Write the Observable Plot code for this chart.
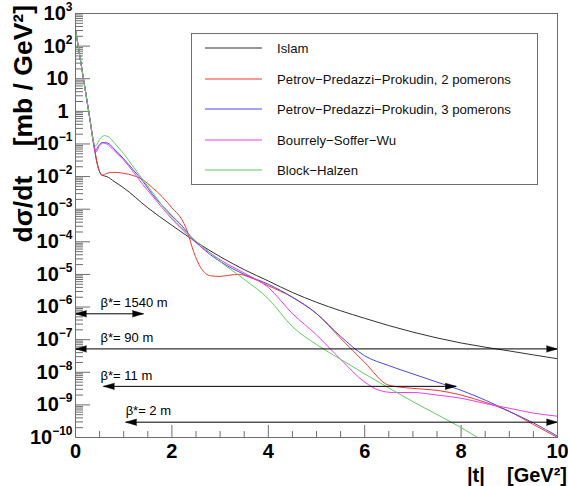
<!DOCTYPE html>
<html>
<head>
<meta charset="utf-8">
<script src="https://cdn.jsdelivr.net/npm/d3@7"></script>
<script src="https://cdn.jsdelivr.net/npm/@observablehq/plot@0.6"></script>
<style>
  html, body { margin: 0; padding: 0; background: #fff; }
  #chart svg { display: block; }
</style>
</head>
<body>
<div id="chart"></div>
<script>
// Elastic pp differential cross section dσ/dt [mb/GeV²] versus |t| [GeV²], model predictions

const modelNames = [
  "Islam",
  "Petrov\u2212Predazzi\u2212Prokudin, 2 pomerons",
  "Petrov\u2212Predazzi\u2212Prokudin, 3 pomerons",
  "Bourrely\u2212Soffer\u2212Wu",
  "Block\u2212Halzen"
];
const modelColors = ["#333333", "#f03a30", "#4a48f0", "#ee3cee", "#5fcc5f"];

// Islam
const islamT = [0, 0.1, 0.2, 0.3, 0.4, 0.45, 0.5, 0.55, 0.65, 0.8, 1.0, 1.5, 2.0, 2.5, 3.0, 3.5, 4.0, 4.5, 5.0, 6.0, 7.0, 8.0, 9.0, 10];
const islamSigma = [320, 40, 4.8, 0.56, 0.063, 0.025, 0.014, 0.011, 0.010, 7.1e-3, 4.5e-3, 1.1e-3, 3.2e-4, 1.0e-4, 3.5e-5, 1.4e-5, 6.3e-6, 2.8e-6, 1.4e-6, 4.5e-7, 1.7e-7, 7.9e-8, 4.5e-8, 2.6e-8];

// Petrov-Predazzi-Prokudin, 2 pomerons
const ppp2T = [0, 0.1, 0.2, 0.3, 0.4, 0.45, 0.5, 0.55, 0.65, 0.8, 1.0, 1.2, 1.4, 1.6, 1.8, 2.0, 2.2, 2.3, 2.45, 2.6, 2.7, 2.8, 3.0, 3.2, 3.4, 3.6, 4.0, 4.5, 5.0, 5.5, 6.0, 6.5, 7.0, 7.5, 8.0, 8.5, 9.0, 9.5, 10];
const ppp2Sigma = [320, 40, 4.8, 0.56, 0.063, 0.025, 0.014, 0.011, 0.0126, 0.0135, 0.0126, 0.0107, 7.9e-3, 4.5e-3, 2.4e-3, 1.1e-3, 5.0e-4, 2.5e-4, 5.0e-5, 1.6e-5, 1.07e-5, 9.1e-6, 8.7e-6, 9.5e-6, 1.0e-5, 8.3e-6, 4.5e-6, 2.0e-6, 6.3e-7, 1.1e-7, 2.0e-8, 4.0e-9, 3.2e-9, 2.8e-9, 2.0e-9, 1.2e-9, 6.3e-10, 2.5e-10, 1.0e-10];

// Petrov-Predazzi-Prokudin, 3 pomerons
const ppp3T = [0, 0.1, 0.2, 0.3, 0.38, 0.42, 0.48, 0.55, 0.62, 0.7, 0.8, 1.0, 1.2, 1.4, 1.6, 1.8, 2.0, 2.2, 2.4, 2.6, 2.8, 3.0, 3.5, 4.0, 4.5, 5.0, 5.5, 6.0, 6.5, 7.0, 7.5, 8.0, 8.5, 9.0, 9.5, 10];
const ppp3Sigma = [320, 40, 4.8, 0.56, 0.10, 0.063, 0.089, 0.11, 0.11, 0.10, 0.071, 0.035, 0.016, 7.1e-3, 2.8e-3, 1.3e-3, 6.3e-4, 3.2e-4, 1.4e-4, 7.1e-5, 4.0e-5, 2.5e-5, 1.0e-5, 5.0e-6, 2.0e-6, 6.3e-7, 1.26e-7, 3.2e-8, 1.6e-8, 8.9e-9, 5.0e-9, 2.8e-9, 1.4e-9, 6.3e-10, 2.8e-10, 1.1e-10];

// Bourrely-Soffer-Wu
const bswT = [0, 0.1, 0.2, 0.3, 0.38, 0.42, 0.5, 0.58, 0.65, 0.8, 1.0, 1.2, 1.4, 1.6, 1.8, 2.0, 2.2, 2.4, 2.6, 2.8, 3.0, 3.5, 4.0, 4.5, 5.0, 5.5, 6.0, 6.3, 6.6, 7.0, 7.5, 8.0, 8.5, 9.0, 9.5, 10];
const bswSigma = [320, 40, 4.8, 0.56, 0.089, 0.056, 0.089, 0.107, 0.10, 0.063, 0.032, 0.014, 5.6e-3, 2.5e-3, 1.1e-3, 5.0e-4, 2.5e-4, 1.26e-4, 7.1e-5, 4.5e-5, 2.8e-5, 1.1e-5, 4.0e-6, 6.3e-7, 1.4e-7, 2.5e-8, 5.0e-9, 2.8e-9, 2.4e-9, 2.4e-9, 2.0e-9, 1.6e-9, 1.1e-9, 7.9e-10, 5.6e-10, 4.5e-10];

// Block-Halzen
const bhT = [0, 0.1, 0.2, 0.3, 0.38, 0.42, 0.5, 0.6, 0.7, 0.8, 1.0, 1.2, 1.4, 1.6, 1.8, 2.0, 2.2, 2.4, 2.6, 2.8, 3.0, 3.5, 4.0, 4.5, 5.0, 5.5, 6.0, 7.0, 8.0, 8.4];
const bhSigma = [320, 40, 4.8, 0.56, 0.11, 0.089, 0.14, 0.18, 0.16, 0.11, 0.05, 0.02, 7.9e-3, 3.2e-3, 1.3e-3, 5.6e-4, 2.8e-4, 1.4e-4, 7.9e-5, 4.5e-5, 2.5e-5, 7.1e-6, 1.8e-6, 2.5e-7, 7.1e-8, 2.5e-8, 8.9e-9, 1.26e-9, 2.0e-10, 8.9e-11];

// |t| acceptance ranges for the different beam optics
const betaLabels = ["\u03b2*= 1540 m", "\u03b2*= 90 m", "\u03b2*= 11 m", "\u03b2*= 2 m"];
const betaFrom = [0, 0, 0.58, 1.04];
const betaTo = [1.41, 10, 7.9, 10];
const betaLevel = [6.2e-7, 5.2e-8, 3.7e-9, 2.95e-10];
const betaLabelT = [0.52, 0.52, 0.52, 1.04];

// axis ticks
const xMajorTicks = [0, 2, 4, 6, 8, 10];
const yExponents = [-10, -9, -8, -7, -6, -5, -4, -3, -2, -1, 0, 1, 2, 3];

const FONT = "'Liberation Sans', Arial, Helvetica, sans-serif";
const AXIS = "#6e6e6e";
const W = 568, H = 486;
const M = {left: 75, right: 11, top: 13, bottom: 49};
const PW = W - M.left - M.right;
const PH = H - M.top - M.bottom;

const seriesT = [islamT, ppp2T, ppp3T, bswT, bhT];
const seriesSigma = [islamSigma, ppp2Sigma, ppp3Sigma, bswSigma, bhSigma];
const rows = modelNames.flatMap((name, k) =>
  seriesT[k].map((t, i) => ({model: name, t, sigma: seriesSigma[k][i]})));

const beams = betaLabels.map((label, i) => ({
  label, from: betaFrom[i], to: betaTo[i], level: betaLevel[i], labelT: betaLabelT[i]
}));

const yMajorTicks = yExponents.map(e => Math.pow(10, e));
const yMinorTicks = yExponents.slice(0, -1).flatMap(e =>
  [2, 3, 4, 5, 6, 7, 8, 9].map(m => m * Math.pow(10, e)));
const xMinorTicks = d3.range(0.5, 10, 0.5).filter(v => !xMajorTicks.includes(v));

const sup = e => (e < 0 ? "\u2212" + (-e) : String(e));

const plot = Plot.plot({
  width: W, height: H,
  marginLeft: M.left, marginRight: M.right, marginTop: M.top, marginBottom: M.bottom,
  style: {fontFamily: FONT, background: "#fff", color: "#000", overflow: "visible"},
  x: {domain: [0, 10]},
  y: {type: "log", domain: [1e-10, 1e3]},
  color: {domain: modelNames, range: modelColors},
  marks: [
    // inward ticks on the left and bottom edges
    Plot.ruleY(yMinorTicks, {insetRight: PW - 8, stroke: AXIS}),
    Plot.ruleY(yMajorTicks, {insetRight: PW - 15, stroke: AXIS}),
    Plot.ruleX(xMinorTicks, {insetTop: PH - 6, stroke: AXIS}),
    Plot.ruleX(xMajorTicks, {insetTop: PH - 12, stroke: AXIS}),
    Plot.axisY(yMajorTicks, {
      tickSize: 0, tickPadding: 3, label: null,
      tickFormat: v => {
        const e = Math.round(Math.log10(v));
        return e === 0 ? "1" : e === 1 ? "10" : "10^" + sup(e);
      },
      fontSize: 20, fontWeight: "bold", fill: "#000"
    }),
    Plot.axisX(xMajorTicks, {
      tickSize: 0, tickPadding: 6, label: null, tickFormat: d => String(d),
      fontSize: 20, fontWeight: "bold", fill: "#000"
    }),
    Plot.line(rows, {
      x: "t", y: "sigma", z: "model", stroke: "model",
      strokeWidth: 1, curve: "monotone-x", clip: true
    }),
    // beam optics acceptance arrows
    Plot.link(beams, {x1: "from", x2: "to", y1: "level", y2: "level", stroke: "#000", strokeWidth: 1}),
    Plot.vector(beams, {x: "to", y: "level", rotate: 90, length: 11, r: 3.2, shape: "spike", anchor: "end", fill: "#000", stroke: "#000", strokeWidth: 0.5}),
    Plot.vector(beams, {x: "from", y: "level", rotate: -90, length: 11, r: 3.2, shape: "spike", anchor: "end", fill: "#000", stroke: "#000", strokeWidth: 0.5}),
    Plot.text(beams, {x: "labelT", y: "level", text: "label", textAnchor: "start", dy: -11, fontSize: 13, fill: "#000"}),
    Plot.frame({stroke: AXIS})
  ]
});

const svg = d3.select(plot);

// superscript exponents on the logarithmic axis labels
svg.selectAll('g[aria-label="y-axis tick label"] text').each(function () {
  const el = d3.select(this);
  const s = el.text();
  if (s.includes("^")) {
    const [base, exp] = s.split("^");
    el.text(null);
    el.append("tspan").text(base);
    el.append("tspan").attr("dy", -9).attr("font-size", 12).text(exp);
  } else {
    el.attr("dx", -4);
  }
});

// axis titles
svg.append("text")
  .attr("x", 567).attr("y", 482)
  .attr("text-anchor", "end")
  .attr("font-family", FONT).attr("font-weight", "bold").attr("font-size", 20)
  .text("|t|\u00a0\u00a0\u00a0\u00a0[GeV\u00b2]");

svg.append("text")
  .attr("transform", "translate(32,5) rotate(-90)")
  .attr("text-anchor", "end")
  .attr("font-family", FONT).attr("font-weight", "bold").attr("font-size", 26.5)
  .text("d\u03c3/dt\u00a0\u00a0\u00a0\u00a0[mb / GeV\u00b2]");

// legend
const leg = svg.append("g")
  .attr("font-family", FONT).attr("font-size", 13.2).attr("text-anchor", "start");
leg.append("rect")
  .attr("x", 191.5).attr("y", 33.5).attr("width", 346).attr("height", 151)
  .attr("fill", "#fff").attr("stroke", AXIS).attr("stroke-width", 1);
const rowY = [48, 79, 109, 140, 170];
modelNames.forEach((name, i) => {
  leg.append("line")
    .attr("x1", 205).attr("x2", 262).attr("y1", rowY[i]).attr("y2", rowY[i])
    .attr("stroke", modelColors[i]).attr("stroke-width", 1.2);
  leg.append("text")
    .attr("x", 277).attr("y", rowY[i]).attr("dy", "0.35em")
    .attr("text-anchor", "start")
    .attr("fill", "#111").text(name);
});

document.getElementById("chart").appendChild(plot);
</script>
</body>
</html>
